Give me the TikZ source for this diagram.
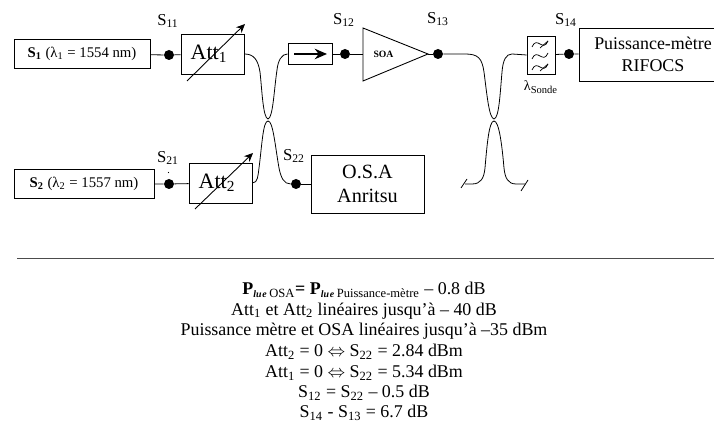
\documentclass[tikz,border=0pt]{standalone}
\usepackage{fontspec}
\setmainfont{Liberation Serif}
\usepackage{xcolor}
\usepackage{tikz}
\usetikzlibrary{arrows.meta, positioning, calc}
\tikzset{
  boxnode/.style={draw=black, line width=0.5pt, minimum width=#1, inner sep=0pt, align=center},
  dotnode/.style={circle, fill=black, inner sep=0pt, minimum size=0.2cm},
  portlabel/.style={font=\fontsize{9.5}{10}\selectfont, inner sep=0pt},
  notetext/.style={font=\fontsize{10.2}{11}\selectfont, inner sep=0pt},
  fibre/.style={line width=0.45pt},
  tuneline/.style={-{Stealth[length=5pt,width=4.5pt]}, line width=0.5pt}
}
\newcommand{\lue}{\textsubscript{\fontsize{5.6}{6}\selectfont\textbf{\textit{lu\kern0.4pt e}}}}
\begin{document}
\begin{tikzpicture}[x=0.02cm,y=-0.02cm]
  \useasboundingbox (0,0) rectangle (714,421);
  % sources and attenuators
  \node[boxnode=2.72cm, minimum height=0.58cm, font=\fontsize{8.4}{9}\selectfont] (src1) at (82,54)
        {\textbf{S\textsubscript{1}} (λ\textsubscript{1} = 1554 nm)};
  \node[boxnode=2.8cm, minimum height=0.58cm, font=\fontsize{8.4}{9}\selectfont] (src2) at (84,184)
        {\textbf{S\textsubscript{2}} (λ\textsubscript{2} = 1557 nm)};
  \node[boxnode=1.26cm, minimum height=0.8cm, font=\fontsize{12.5}{13}\selectfont] (att1) at (212.5,54) {Att\textsubscript{1}\hspace{0.14cm}};
  \node[boxnode=1.26cm, minimum height=0.8cm, font=\fontsize{12.5}{13}\selectfont] (att2) at (220.5,183) {Att\textsubscript{2}\hspace{0.14cm}};
  \node[dotnode] (dot11) at (169,55) {};
  \node[dotnode] (dot21) at (169,184) {};
  \node[dotnode] (dot22) at (296,184) {};
  \node[dotnode] (dot12) at (345,54) {};
  \node[dotnode] (dot13) at (438,54) {};
  \node[dotnode] (dot14) at (569,54) {};
  % isolator, amplifier, filter
  \node[boxnode=0.88cm, minimum height=0.42cm] (iso) at (310,54) {};
  \coordinate (isoa) at (294,54);
  \coordinate (isob) at (327,54);
  \draw[-{Stealth[length=7pt,width=6pt]}, line width=0.9pt] (isoa) -- (isob);
  \coordinate (soaa) at (363,28);
  \coordinate (soab) at (363,81);
  \coordinate (soac) at (428,54);
  \draw[line width=0.5pt] (soaa) -- (soac) -- (soab) -- cycle;
  \coordinate (soain) at (363,54);
  \node[font=\fontsize{5.5}{6}\selectfont\bfseries, inner sep=0pt] (soa) at (383.5,54) {SOA};
  \node[boxnode=0.56cm, minimum height=0.76cm] (filt) at (541,55) {};
  \foreach \wy in {44,56,67} {
    \draw[line width=0.4pt] (532,\wy+3) .. controls (537,\wy-9) and (543,\wy+9) .. (548,\wy-3);
  }
  \foreach \wy in {44,67} {
    \draw[line width=0.4pt] (540,\wy+4) -- (548,\wy-3);
  }
  % measuring instruments
  \node[boxnode=2.96cm, minimum height=1.06cm, font=\fontsize{10.2}{12.5}\selectfont] (rifocs) at (653,54.5) {Puissance-mètre\\RIFOCS};
  \node[boxnode=2.26cm, minimum height=1.16cm, font=\fontsize{11.5}{13.7}\selectfont] (osa) at (367.5,184) {O.S.A\\Anritsu};
  % tunable arrows
  \coordinate (tune1a) at (187,81);
  \coordinate (tune1b) at (245,24);
  \coordinate (tune2a) at (195,209);
  \coordinate (tune2b) at (253,153);
  \draw[tuneline] (tune1a) -- (tune1b);
  \draw[tuneline] (tune2a) -- (tune2b);
  % straight links
  \draw[fibre] (src1) -- (dot11) -- (att1);
  \draw[fibre] (src2) -- (dot21) -- (att2);
  \draw[fibre] (iso) -- (dot12) -- (soain);
  \draw[fibre] (soac) -- (dot13);
  \draw[fibre] (filt) -- (dot14) -- (rifocs.west |- dot14);
  \draw[fibre] (dot22) -- (osa);
  % first coupler
  \coordinate (cplAn) at (268,119);
  \coordinate (cplAs) at (268,121);
  \draw[fibre] (att1.east) .. controls (254,54) and (258,60) .. (260,72)
        .. controls (262,90) and (263,118) .. (cplAn);
  \draw[fibre] (iso.west) .. controls (282,54) and (278,60) .. (277,70)
        .. controls (274,90) and (273,118) .. (cplAn);
  \draw[fibre] (att2.east) .. controls (258,183) and (258,175) .. (259,168)
        .. controls (262,145) and (263,121) .. (cplAs);
  \draw[fibre] (dot22) .. controls (284,184) and (281,178) .. (279,168)
        .. controls (275,145) and (273,121) .. (cplAs);
  % second coupler
  \coordinate (cplBn) at (494,119);
  \coordinate (cplBs) at (494,121);
  \coordinate (endl) at (465,184);
  \coordinate (endr) at (525,184);
  \coordinate (tickla) at (461,188);
  \coordinate (ticklb) at (467,179);
  \coordinate (tickra) at (521,191);
  \coordinate (tickrb) at (528,180);
  \draw[fibre] (dot13) -- (465,54) .. controls (478,54) and (482,58) .. (484,72)
        .. controls (487,95) and (489,118) .. (cplBn);
  \draw[fibre] (filt.west) -- (512,54) .. controls (506,54) and (503,60) .. (502,72)
        .. controls (500,95) and (499,118) .. (cplBn);
  \draw[fibre] (endl) -- (472,184) .. controls (481,184) and (484,178) .. (485,168)
        .. controls (487,145) and (489,121) .. (cplBs);
  \draw[fibre] (endr) -- (516,184) .. controls (508,184) and (505,178) .. (504,168)
        .. controls (502,145) and (499,121) .. (cplBs);
  \draw[fibre] (tickla) -- (ticklb);
  \draw[fibre] (tickra) -- (tickrb);
  % port labels
  \node[portlabel] (s11) at (168,21) {S\textsubscript{11}};
  \node[portlabel] (s21) at (168,158) {S\textsubscript{21}};
  \node[portlabel] (s22) at (294,156) {S\textsubscript{22}};
  \node[portlabel] (s12) at (344,20) {S\textsubscript{12}};
  \node[portlabel] (s13) at (438,19) {S\textsubscript{13}};
  \node[portlabel] (s14) at (566,20) {S\textsubscript{14}};
  \node[inner sep=0pt, font=\fontsize{8}{9}\selectfont] (sonde) at (541,87) {λ\textsubscript{Sonde}};
  \fill (168.5,172.5) circle (0.6);
  % separation and notes
  \coordinate (rulea) at (17,258);
  \coordinate (ruleb) at (714,258);
  \draw[line width=0.4pt, black!70] (rulea) -- (ruleb);
  \node[notetext] (note1) at (364,290) {\textbf{P}\lue\textsubscript{\kern1pt OSA}\textbf{=} \textbf{P}\lue\textsubscript{\kern1pt Puissance-mètre} – 0.8 dB};
  \node[notetext] (note2) at (364,311) {Att\textsubscript{1} et Att\textsubscript{2} linéaires jusqu’à – 40 dB};
  \node[notetext] (note3) at (364,331) {Puissance mètre et OSA linéaires jusqu’à –35 dBm};
  \node[notetext] (note4) at (364,352) {Att\textsubscript{2} = 0 $\Leftrightarrow$ S\textsubscript{22} = 2.84 dBm};
  \node[notetext] (note5) at (364,373) {Att\textsubscript{1} = 0 $\Leftrightarrow$ S\textsubscript{22} = 5.34 dBm};
  \node[notetext] (note6) at (364,393) {S\textsubscript{12} = S\textsubscript{22} – 0.5 dB};
  \node[notetext] (note7) at (364,413) {S\textsubscript{14} - S\textsubscript{13} = 6.7 dB};
\end{tikzpicture}
\end{document}
